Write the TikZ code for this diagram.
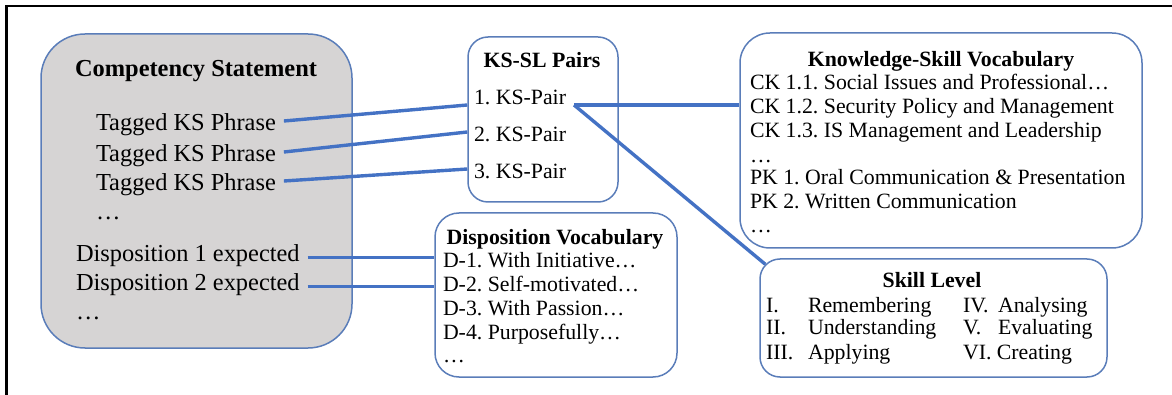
\documentclass[tikz,border=0pt]{standalone}
\usepackage{fontspec}
\setmainfont{Liberation Serif}
\usetikzlibrary{fit}
\definecolor{boxblue}{HTML}{5A7DB9}
\definecolor{linkblue}{HTML}{4472C4}
\definecolor{csgray}{HTML}{D6D4D4}
\newcommand{\bigsz}{\fontsize{12.2}{14}\selectfont}
\newcommand{\smallsz}{\fontsize{10.9}{13}\selectfont}
\frenchspacing

\begin{document}
\begin{tikzpicture}[x=0.5pt, y=-0.5pt,
      vbox/.style={draw=boxblue, line width=0.75pt, rounded corners=#1, inner sep=0pt},
      link/.style={draw=linkblue, line width=1.7pt},
      row/.style={anchor=base west, inner sep=0pt, outer xsep=4pt, outer ysep=0pt,
                  text height=10pt, text depth=0pt, font=\smallsz},
      ttl/.style={anchor=base, inner sep=0pt, font=\smallsz\bfseries}]
      \useasboundingbox (0,0) rectangle (1172,395);
      \draw[line width=1.2pt] (6.5,395) -- (6.5,6) -- (1172,6);

      \node[vbox=22pt, fill=csgray, fit={(41,34) (352,348)}] (cs)    {};
      \node[vbox=10pt, fit={(468,37) (618,202)}]              (pairs) {};
      \node[vbox=12pt, fit={(435,213) (677,377)}]             (dv)    {};
      \node[vbox=15pt, fit={(740,33) (1142,248)}]             (ksv)   {};
      \node[vbox=10pt, fit={(760,259) (1107,377)}]            (sl)    {};

      \node[ttl, font=\bigsz\bfseries] (cst) at (196,77) {Competency Statement};
      \node[row, font=\bigsz] (tk1)   at (88,131) {Tagged KS Phrase};
      \node[row, font=\bigsz] (tk2)   at (88,162) {Tagged KS Phrase};
      \node[row, font=\bigsz] (tk3)   at (88,191) {Tagged KS Phrase};
      \node[row, font=\bigsz] (tkdot) at (88,220) {…};
      \node[row, font=\bigsz] (d1)    at (68,262) {Disposition 1 expected};
      \node[row, font=\bigsz] (d2)    at (68,291) {Disposition 2 expected};
      \node[row, font=\bigsz] (ddot)  at (68,320) {…};

      \node[ttl] (pairst) at (542,68) {KS-SL Pairs};
      \node[row] (p1) at (466,105) {1. KS-Pair};
      \node[row] (p2) at (466,142) {2. KS-Pair};
      \node[row] (p3) at (466,179) {3. KS-Pair};

      \node[ttl] (dvt) at (555,245) {Disposition Vocabulary};
      \node[row] (dv1)   at (435,268) {D-1. With Initiative…};
      \node[row] (dv2)   at (435,292) {D-2. Self-motivated…};
      \node[row] (dv3)   at (435,315) {D-3. With Passion…};
      \node[row] (dv4)   at (435,339) {D-4. Purposefully…};
      \node[row] (dvdot) at (435,362) {…};

      \node[ttl] (ksvt) at (941,67) {Knowledge-Skill Vocabulary};
      \node[row] (ck1)    at (742,90)  {CK 1.1. Social Issues and Professional…};
      \node[row] (ck2)    at (742,114) {CK 1.2. Security Policy and Management};
      \node[row] (ck3)    at (742,138) {CK 1.3. IS Management and Leadership};
      \node[row] (ckdot)  at (742,163) {…};
      \node[row] (pk1)    at (742,185) {PK 1. Oral Communication \& Presentation};
      \node[row] (pk2)    at (742,209) {PK 2. Written Communication};
      \node[row] (pkdot)  at (742,233) {…};

      \node[ttl] (slt) at (932,287) {Skill Level};
      \node[row] (sl1n) at (758,312) {I.};
      \node[row] (sl1)  at (800,312) {Remembering};
      \node[row] (sl2n) at (758,335) {II.};
      \node[row] (sl2)  at (800,335) {Understanding};
      \node[row] (sl3n) at (758,359) {III.};
      \node[row] (sl3)  at (800,359) {Applying};
      \node[row] (sl4n) at (955,312) {IV.};
      \node[row] (sl4)  at (990,312) {Analysing};
      \node[row] (sl5n) at (955,335) {V.};
      \node[row] (sl5)  at (990,335) {Evaluating};
      \node[row] (sl6)  at (955,359) {VI. Creating};

      \coordinate (slc) at ([shift={(3pt,-3pt)}]sl.north west);
      \draw[link] (tk1.east) -- (pairs.west |- p1.base);
      \draw[link] (tk2.east) -- (pairs.west |- p2);
      \draw[link] (tk3.east) -- (pairs.west |- p3);
      \draw[link] (d1.mid east) -- (dv.west |- d1.mid);
      \draw[link] (d2.mid east) -- (dv.west |- d2.mid);
      \draw[link] (p1.base east) -- (ksv.west |- p1.base);
      \draw[link] (p1.base east) -- (slc);
   \end{tikzpicture}
\end{document}
